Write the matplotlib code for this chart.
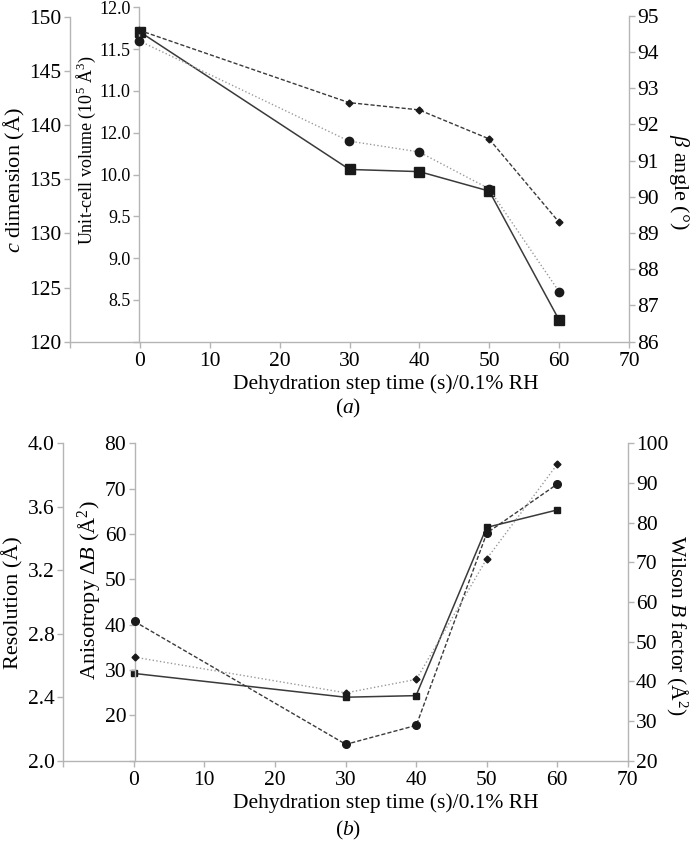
import matplotlib
matplotlib.use("Agg")
import matplotlib.pyplot as plt

plt.rcParams['font.family'] = ['Liberation Serif', 'DejaVu Serif']
plt.rcParams['mathtext.fontset'] = 'custom'
plt.rcParams['mathtext.rm'] = 'Liberation Serif'
plt.rcParams['mathtext.it'] = 'Liberation Serif:italic'

# ---------------- data ----------------
time_s = [0, 30, 40, 50, 60]

# panel (a)
c_dimension = [148.6, 135.9, 135.7, 133.9, 122.0]      # Å
cell_volume = [11.60, 10.40, 10.27, 9.83, 8.60]         # 10^5 Å^3
beta_angle = [94.6, 92.6, 92.4, 91.6, 89.3]             # degrees

# panel (b)
resolution = [2.55, 2.40, 2.41, 3.47, 3.58]             # Å
anisotropy = [40.7, 13.6, 17.8, 60.2, 71.0]             # Å^2
wilson_b = [46.1, 37.1, 40.5, 70.9, 94.7]               # Å^2

x_ticks = [-10, 0, 10, 20, 30, 40, 50, 60, 70]
x_ticklabels = ['', '0', '10', '20', '30', '40', '50', '60', '70']
c_ticks = [120, 125, 130, 135, 140, 145, 150]
vol_ticks = [8.0, 8.5, 9.0, 9.5, 10.0, 10.5, 11.0, 11.5, 12.0]
vol_ticklabels = ['', '8.5', '9.0', '9.5', '10.0', '12.0', '11.0', '11.5', '12.0']
beta_ticks = [86, 87, 88, 89, 90, 91, 92, 93, 94, 95]
res_ticks = [2.0, 2.4, 2.8, 3.2, 3.6, 4.0]
res_ticklabels = ['2.0', '2.4', '2.8', '3.2', '3.6', '4.0']
aniso_ticks = [10, 20, 30, 40, 50, 60, 70, 80]
aniso_ticklabels = ['', '20', '30', '40', '50', '60', '70', '80']
wilson_ticks = [20, 30, 40, 50, 60, 70, 80, 90, 100]

# ---------------- layout helpers ----------------
W, H = 691, 844
fig = plt.figure(figsize=(W / 100, H / 100), dpi=100)

AX_COL = '#b5b5b5'
DARK = '#3a3a3a'
LIGHT = '#9a9a9a'
TICK_FS = 15.5


def add_ax(left, right, top, bottom):
    ax = fig.add_axes([left / W, 1 - bottom / H, (right - left) / W, (bottom - top) / H])
    ax.patch.set_alpha(0)
    for s in ax.spines.values():
        s.set_visible(False)
        s.set_color(AX_COL)
        s.set_linewidth(1.0)
    ax.tick_params(colors=AX_COL, labelcolor='black', length=4, width=1.0,
                   labelsize=TICK_FS, direction='out')
    return ax


def style_left(ax, ticks, labels=None, fs=TICK_FS):
    ax.spines['left'].set_visible(True)
    ax.set_yticks(ticks)
    if labels is not None:
        ax.set_yticklabels(labels)
    ax.tick_params(axis='y', labelsize=fs, pad=2)


def no_x(ax):
    ax.set_xticks([])


def style_right(ax, ticks):
    ax.spines['right'].set_visible(True)
    ax.yaxis.tick_right()
    ax.set_yticks(ticks)
    ax.tick_params(axis='y', pad=2)


# ---------------- panel (a) ----------------
ax_c = add_ax(70, 629, 16.7, 341.7)
ax_c.set_xlim(-10, 70)
ax_c.set_ylim(120, 150)
ax_c.spines['bottom'].set_visible(True)
ax_c.set_xticks(x_ticks)
ax_c.set_xticklabels(x_ticklabels)
style_left(ax_c, c_ticks)

ax_v = add_ax(139, 629, 7.3, 341.7)
ax_v.set_xlim(0, 70)
ax_v.set_ylim(8, 12)
no_x(ax_v)
style_left(ax_v, vol_ticks, vol_ticklabels, fs=13)

ax_beta = add_ax(139, 629, 15.7, 341.7)
ax_beta.set_xlim(0, 70)
ax_beta.set_ylim(86, 95)
no_x(ax_beta)
style_right(ax_beta, beta_ticks)

ax_c.plot(time_s, c_dimension, '-', color=DARK, lw=1.1, marker='s', ms=6.5,
          mfc='#1a1a1a', mec='#1a1a1a', clip_on=False, zorder=3)
ax_v.plot(time_s, cell_volume, ':', color=LIGHT, lw=1.0, marker='o', ms=6,
          mfc='#1a1a1a', mec='#1a1a1a', clip_on=False, zorder=3)
ax_beta.plot(time_s, beta_angle, '--', color=DARK, lw=1.0, dashes=(3, 1.5),
             marker='D', ms=3.5, mfc='#1a1a1a', mec='#1a1a1a', clip_on=False, zorder=3)

fig.text(14 / W, 1 - 180 / H, r'$c$ dimension (Å)', rotation=90, ha='center', va='center', fontsize=16)
fig.text(86 / W, 1 - 150 / H, r'Unit-cell volume (10$^{5}$ Å$^{3}$)', rotation=90, ha='center',
         va='center', fontsize=13)
fig.text(679 / W, 1 - 182 / H, r'$\beta$ angle (°)', rotation=-90, ha='center', va='center', fontsize=16)
fig.text(386 / W, 1 - 384 / H, 'Dehydration step time (s)/0.1% RH', ha='center', va='center', fontsize=15.5)
fig.text(348 / W, 1 - 408 / H, r'($a$)', ha='center', va='center', fontsize=15.5)

# ---------------- panel (b) ----------------
ax_r = add_ax(63.3, 627.7, 443.3, 760.7)
ax_r.set_xlim(-10, 70)
ax_r.set_ylim(2.0, 4.0)
ax_r.spines['bottom'].set_visible(True)
ax_r.set_xticks(x_ticks)
ax_r.set_xticklabels(x_ticklabels)
style_left(ax_r, res_ticks, res_ticklabels)

ax_an = add_ax(134.5, 627.7, 443.3, 760.7)
ax_an.set_xlim(0, 70)
ax_an.set_ylim(10, 80)
no_x(ax_an)
style_left(ax_an, aniso_ticks, aniso_ticklabels)

ax_w = add_ax(134.5, 627.7, 443.3, 760.7)
ax_w.set_xlim(0, 70)
ax_w.set_ylim(20, 100)
no_x(ax_w)
style_right(ax_w, wilson_ticks)

ax_r.plot(time_s, resolution, '-', color=DARK, lw=1.1, marker='s', ms=5,
          mfc='#1a1a1a', mec='#1a1a1a', clip_on=False, zorder=3)
ax_an.plot(time_s, anisotropy, '--', color=DARK, lw=1.0, dashes=(3, 1.5), marker='o', ms=5.5,
           mfc='#1a1a1a', mec='#1a1a1a', clip_on=False, zorder=3)
ax_w.plot(time_s, wilson_b, ':', color=LIGHT, lw=1.0, marker='D', ms=3.5,
          mfc='#1a1a1a', mec='#1a1a1a', clip_on=False, zorder=3)

fig.text(13 / W, 1 - 603 / H, 'Resolution (Å)', rotation=90, ha='center', va='center', fontsize=16)
fig.text(89 / W, 1 - 590 / H, r'Anisotropy $\Delta B$ (Å$^{2}$)', rotation=90, ha='center',
         va='center', fontsize=16)
fig.text(677 / W, 1 - 625 / H, r'Wilson $B$ factor (Å$^{2}$)', rotation=-90, ha='center',
         va='center', fontsize=15.5)
fig.text(386 / W, 1 - 803 / H, 'Dehydration step time (s)/0.1% RH', ha='center', va='center', fontsize=15.5)
fig.text(348 / W, 1 - 830 / H, r'($b$)', ha='center', va='center', fontsize=15.5)

fig.savefig('out.png', dpi=100)
